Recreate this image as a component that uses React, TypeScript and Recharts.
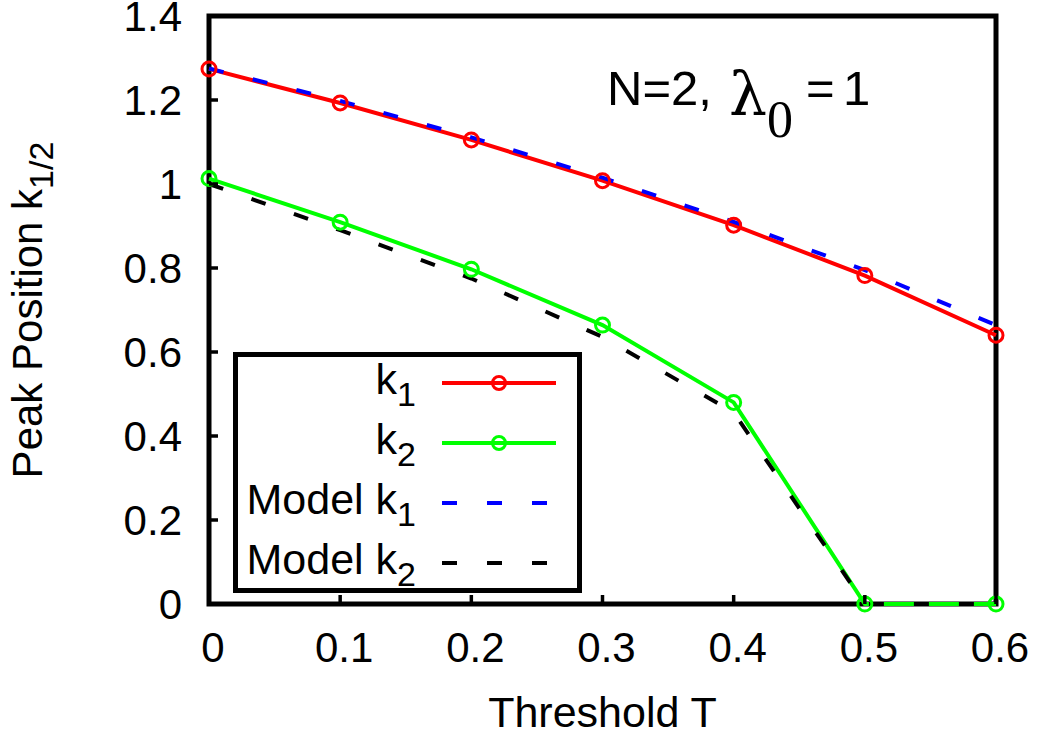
import React from 'react';
import { LineChart, Line, XAxis, YAxis, Legend, Label } from 'recharts';

// ---------- data ----------
const thresholds = [0, 0.1, 0.2, 0.3, 0.4, 0.5, 0.6];
const k1Values = [1.274, 1.193, 1.105, 1.008, 0.902, 0.782, 0.64];
const k2Values = [1.013, 0.909, 0.797, 0.664, 0.48, 0, 0];
const modelK1Values = [1.275, 1.198, 1.111, 1.015, 0.91, 0.795, 0.664];
const modelK2Values = [1.0, 0.89, 0.775, 0.636, 0.456, 0, 0];
const xTicks = [0, 0.1, 0.2, 0.3, 0.4, 0.5, 0.6];
const yTicks = [0, 0.2, 0.4, 0.6, 0.8, 1, 1.2, 1.4];

const data = thresholds.map((t, i) => ({
  t,
  k1: k1Values[i],
  k2: k2Values[i],
  m1: modelK1Values[i],
  m2: modelK2Values[i],
}));

// ---------- layout / styles ----------
const FONT = "'Liberation Sans', Arial, Helvetica, sans-serif";
const SERIF = "'Liberation Serif', 'DejaVu Serif', 'Times New Roman', serif";
const GREEK = "'DejaVu Serif', 'Liberation Serif', serif";
const W = 1037;
const H = 736;
const MARGIN = { top: 16, right: 41, bottom: 0, left: 0 };
const Y_AXIS_W = 209;
const X_AXIS_H = 132;
const Y_TICK_GAP = 27;
const X_TICK_GAP = 58;
const TICK_LEN = 9;
const TICK_W = 3.5;
const FRAME_W = 5;
const DASH = '15 30';
const TICK_FONT = 42;

const PLOT_LEFT = MARGIN.left + Y_AXIS_W;
const PLOT_TOP = MARGIN.top;
const PLOT_RIGHT = W - MARGIN.right;
const PLOT_BOTTOM = H - MARGIN.bottom - X_AXIS_H;

const LeftTick = (props: any) => {
  const { x, y, payload } = props;
  const ax = x + Y_TICK_GAP;
  return (
    <g>
      <line x1={ax} y1={y} x2={ax + TICK_LEN} y2={y} stroke="#000" strokeWidth={TICK_W} />
      <text x={x} y={y} dy="0.36em" textAnchor="end" fontSize={TICK_FONT} fontFamily={FONT} fill="#000">
        {String(payload.value)}
      </text>
    </g>
  );
};

const RightTick = (props: any) => {
  const { x, y } = props;
  return <line x1={x} y1={y} x2={x - TICK_LEN} y2={y} stroke="#000" strokeWidth={TICK_W} />;
};

const BottomTick = (props: any) => {
  const { x, y, payload } = props;
  const ay = y - X_TICK_GAP;
  return (
    <g>
      <line x1={x} y1={ay} x2={x} y2={ay - TICK_LEN} stroke="#000" strokeWidth={TICK_W} />
      <text x={x + 4} y={y} textAnchor="middle" fontSize={TICK_FONT} fontFamily={FONT} fill="#000">
        {String(payload.value)}
      </text>
    </g>
  );
};

const TopTick = (props: any) => {
  const { x, y } = props;
  return <line x1={x} y1={y} x2={x} y2={y + TICK_LEN} stroke="#000" strokeWidth={TICK_W} />;
};

const XLabel = (props: any) => {
  const vb = props.viewBox || { x: PLOT_LEFT, y: PLOT_BOTTOM, width: PLOT_RIGHT - PLOT_LEFT, height: X_AXIS_H };
  return (
    <text
      x={vb.x + vb.width / 2}
      y={vb.y + vb.height - 9}
      textAnchor="middle"
      fontSize={43}
      fontFamily={FONT}
      fill="#000"
    >
      Threshold T
    </text>
  );
};

const YLabel = (props: any) => {
  const vb = props.viewBox || { x: 0, y: PLOT_TOP, width: Y_AXIS_W, height: PLOT_BOTTOM - PLOT_TOP };
  const cx = vb.x + 42;
  const cy = vb.y + vb.height / 2;
  return (
    <text
      x={cx}
      y={cy}
      transform={`rotate(-90, ${cx}, ${cy})`}
      textAnchor="middle"
      fontSize={42}
      fontFamily={FONT}
      fill="#000"
    >
      Peak Position k
      <tspan fontSize={34} dy={11}>1/2</tspan>
    </text>
  );
};

const legendItems = [
  { pre: '', sub: '1', color: '#ff0000', dashed: false },
  { pre: '', sub: '2', color: '#00ff00', dashed: false },
  { pre: 'Model ', sub: '1', color: '#0000ff', dashed: true },
  { pre: 'Model ', sub: '2', color: '#000000', dashed: true },
];

const LegendBox = () => (
  <svg width={349} height={241} style={{ display: 'block' }}>
    <rect x={2.5} y={2.5} width={344} height={236} fill="#fff" stroke="#000" strokeWidth={FRAME_W} />
    {legendItems.map((it, i) => {
      const cy = 31 + i * 60;
      return (
        <g key={i}>
          <text x={183} y={cy + 11} textAnchor="end" fontSize={43} fontFamily={FONT} fill="#000">
            {it.pre}k
            <tspan fontSize={34} dy={12}>{it.sub}</tspan>
          </text>
          <line
            x1={209}
            y1={cy}
            x2={323}
            y2={cy}
            stroke={it.color}
            strokeWidth={4}
            strokeDasharray={it.dashed ? DASH : undefined}
          />
          {!it.dashed && <circle cx={266} cy={cy} r={6.5} fill="none" stroke={it.color} strokeWidth={3} />}
        </g>
      );
    })}
  </svg>
);

export default function App() {
  return (
    <div style={{ position: 'absolute', left: 0, top: 0, width: W, height: H, background: '#fff' }}>
      <svg width={W} height={H} style={{ position: 'absolute', left: 0, top: 0 }}>
        <rect
          x={PLOT_LEFT}
          y={PLOT_TOP}
          width={PLOT_RIGHT - PLOT_LEFT}
          height={PLOT_BOTTOM - PLOT_TOP}
          fill="none"
          stroke="#000"
          strokeWidth={FRAME_W}
        />
      </svg>
      <div style={{ position: 'absolute', left: 0, top: 0 }}>
        <LineChart width={W} height={H} data={data} margin={MARGIN}>
          <XAxis
            dataKey="t"
            type="number"
            domain={[0, 0.6]}
            ticks={xTicks}
            interval={0}
            height={X_AXIS_H}
            tickSize={0}
            tickMargin={X_TICK_GAP}
            tickLine={false}
            axisLine={false}
            tick={<BottomTick />}
          >
            <Label content={<XLabel />} />
          </XAxis>
          <XAxis
            xAxisId="top"
            orientation="top"
            dataKey="t"
            type="number"
            domain={[0, 0.6]}
            ticks={xTicks}
            interval={0}
            height={0}
            tickSize={0}
            tickMargin={0}
            tickLine={false}
            axisLine={false}
            tick={<TopTick />}
          />
          <YAxis
            type="number"
            domain={[0, 1.4]}
            ticks={yTicks}
            interval={0}
            width={Y_AXIS_W}
            tickSize={0}
            tickMargin={Y_TICK_GAP}
            tickLine={false}
            axisLine={false}
            tick={<LeftTick />}
          >
            <Label content={<YLabel />} />
          </YAxis>
          <YAxis
            yAxisId="right"
            orientation="right"
            type="number"
            domain={[0, 1.4]}
            ticks={yTicks}
            interval={0}
            width={0}
            tickSize={0}
            tickMargin={0}
            tickLine={false}
            axisLine={false}
            tick={<RightTick />}
          />
          <Legend
            layout="horizontal"
            verticalAlign="middle"
            align="center"
            wrapperStyle={{ left: 233, top: 352, width: 349, height: 241, margin: 0, padding: 0 }}
            content={() => <LegendBox />}
          />
          <Line
            dataKey="k1"
            type="linear"
            stroke="#ff0000"
            strokeWidth={4}
            dot={{ r: 7, stroke: '#ff0000', strokeWidth: 3, fill: 'none' }}
            activeDot={false}
            isAnimationActive={false}
          />
          <Line
            dataKey="k2"
            type="linear"
            stroke="#00ff00"
            strokeWidth={4}
            dot={{ r: 7, stroke: '#00ff00', strokeWidth: 3, fill: 'none' }}
            activeDot={false}
            isAnimationActive={false}
          />
          <Line
            dataKey="m1"
            type="linear"
            stroke="#0000ff"
            strokeWidth={4}
            strokeDasharray={DASH}
            dot={false}
            activeDot={false}
            isAnimationActive={false}
          />
          <Line
            dataKey="m2"
            type="linear"
            stroke="#000000"
            strokeWidth={4}
            strokeDasharray={DASH}
            dot={false}
            activeDot={false}
            isAnimationActive={false}
          />
        </LineChart>
      </div>
      <svg
        width={W}
        height={H}
        style={{ position: 'absolute', left: 0, top: 0, pointerEvents: 'none' }}
      >
        <text y={105} fontFamily={FONT} fontSize={49} fill="#000">
          <tspan x={607}>N=2,</tspan>
          <tspan x={729} dy={10} fontFamily={GREEK} fontSize={60}>λ</tspan>
          <tspan x={767} dy={22} fontFamily={SERIF} fontSize={52}>0</tspan>
          <tspan x={806} dy={-32}>=</tspan>
          <tspan x={843}>1</tspan>
        </text>
      </svg>
    </div>
  );
}
